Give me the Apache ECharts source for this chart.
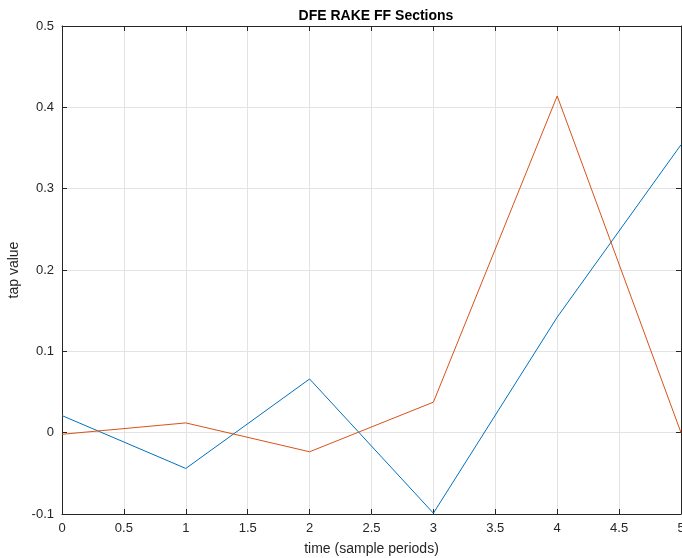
<!DOCTYPE html>
<html>
<head>
<meta charset="utf-8">
<script src="https://cdn.jsdelivr.net/npm/echarts@6/dist/echarts.min.js"></script>
<style>html,body{margin:0;padding:0;background:#fff}#c{width:682px;height:558px}</style>
</head>
<body>
<div id="c"></div>
<script>
const xValues = [0, 1, 2, 3, 4, 5];
const seriesBlue = [0.021, -0.044, 0.066, -0.099, 0.142, 0.354];
const seriesOrange = [-0.002, 0.012, -0.0235, 0.0375, 0.414, 0.0];
const titleText = 'DFE RAKE FF Sections';
const xLabel = 'time (sample periods)';
const yLabel = 'tap value';

const font = 'Liberation Sans, Arial, Helvetica, sans-serif';
const axisCol = '#262626';
const fmt = v => { const r = Math.round(v * 10) / 10; return String(r); };

const chart = echarts.init(document.getElementById('c'));
const tickStyle = { show: true, inside: true, length: 5, lineStyle: { color: axisCol, width: 1 } };
chart.setOption({
  animation: false,
  backgroundColor: '#fff',
  title: {
    text: titleText, left: 371, textAlign: 'center', top: 4,
    textStyle: { fontFamily: font, fontSize: 14, fontWeight: 'bold', color: '#000' }
  },
  grid: { left: 62, right: 1, top: 26, bottom: 44, containLabel: false, outerBoundsMode: 'none' },
  xAxis: [{
    type: 'value', min: 0, max: 5, interval: 0.5, position: 'bottom',
    name: xLabel, nameLocation: 'middle', nameGap: 28,
    nameTextStyle: { fontFamily: font, fontSize: 14, color: axisCol },
    axisLine: { show: true, onZero: false, lineStyle: { color: axisCol, width: 1 } },
    axisTick: tickStyle,
    axisLabel: { fontFamily: font, fontSize: 13, color: axisCol, margin: 8, formatter: fmt },
    splitLine: { show: true, lineStyle: { color: '#e3e3e3', width: 1 } }
  }, {
    type: 'value', min: 0, max: 5, interval: 0.5, position: 'top',
    axisLine: { show: true, onZero: false, lineStyle: { color: axisCol, width: 1 } },
    axisTick: tickStyle, axisLabel: { show: false }, splitLine: { show: false }
  }],
  yAxis: [{
    type: 'value', min: -0.1, max: 0.5, interval: 0.1, position: 'left',
    name: yLabel, nameLocation: 'middle', nameGap: 35,
    nameTextStyle: { fontFamily: font, fontSize: 14, color: axisCol },
    axisLine: { show: true, onZero: false, lineStyle: { color: axisCol, width: 1 } },
    axisTick: tickStyle,
    axisLabel: { fontFamily: font, fontSize: 13, color: axisCol, margin: 8, formatter: fmt },
    splitLine: { show: true, lineStyle: { color: '#e3e3e3', width: 1 } }
  }, {
    type: 'value', min: -0.1, max: 0.5, interval: 0.1, position: 'right',
    axisLine: { show: true, onZero: false, lineStyle: { color: axisCol, width: 1 } },
    axisTick: tickStyle, axisLabel: { show: false }, splitLine: { show: false }
  }],
  series: [{
    type: 'line', data: xValues.map((x, i) => [x, seriesBlue[i]]),
    showSymbol: false, lineStyle: { color: '#0072BD', width: 1 }, itemStyle: { color: '#0072BD' }
  }, {
    type: 'line', data: xValues.map((x, i) => [x, seriesOrange[i]]),
    showSymbol: false, lineStyle: { color: '#D95319', width: 1 }, itemStyle: { color: '#D95319' }
  }]
});
</script>
</body>
</html>
